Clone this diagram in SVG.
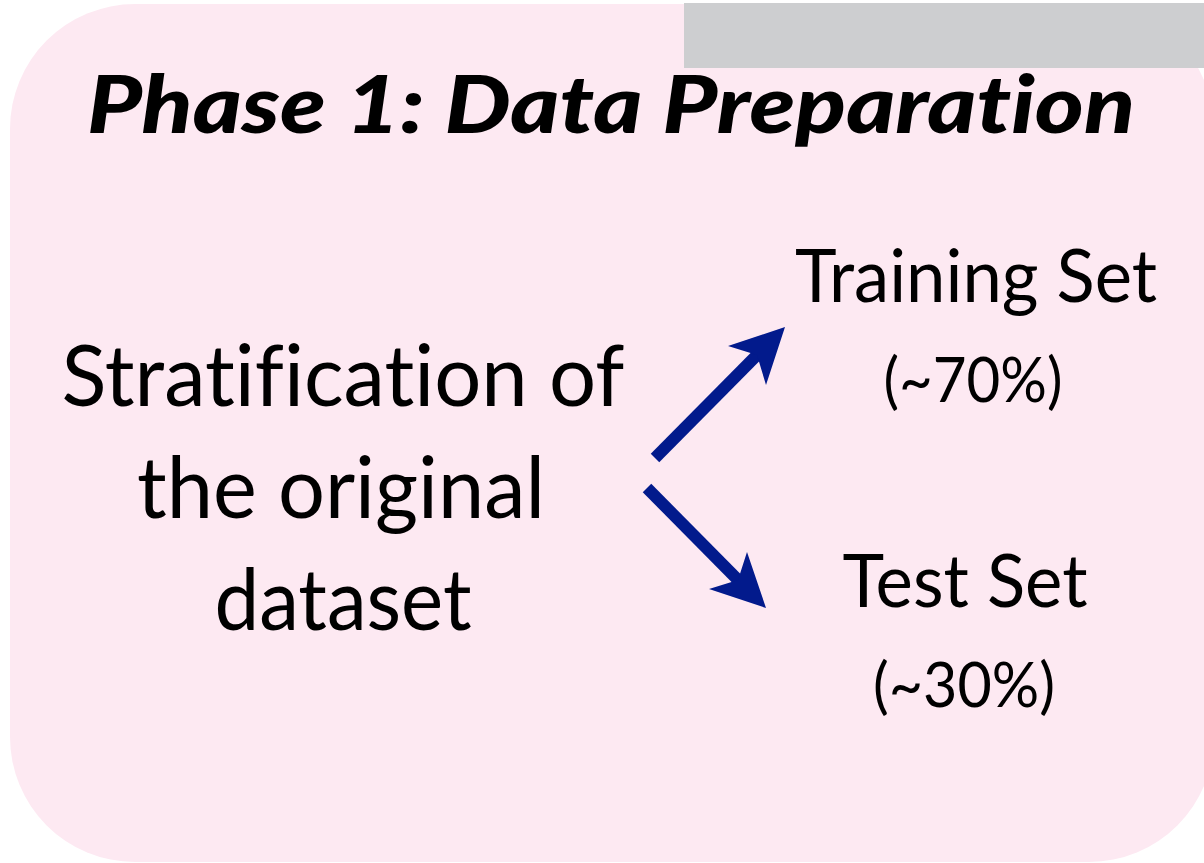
<svg xmlns="http://www.w3.org/2000/svg" width="1204" height="863" viewBox="0 0 1204 863">
  <style>
    text { font-variant-ligatures: none; }
    .title { font-family: "Lato", "Open Sans", "Liberation Sans", sans-serif; font-weight: 900; font-style: italic; font-size: 80px; fill: #000; }
    .big { font-family: "Lato", "Liberation Sans", sans-serif; font-size: 86px; fill: #000; text-anchor: middle; }
    .label { font-family: "Lato", "Liberation Sans", sans-serif; font-size: 74px; fill: #000; text-anchor: middle; }
    .pct { font-family: "Lato", "Liberation Sans", sans-serif; font-size: 62px; fill: #000; text-anchor: middle; }
    .shaft { stroke: #021a8c; stroke-width: 12; fill: none; stroke-linecap: butt; }
    .head { fill: #021a8c; }
  </style>

  <!-- panel background -->
  <rect id="panel" x="10" y="4" width="1204" height="858" rx="125" ry="125" fill="#fde9f2"/>
  <rect id="tab" x="684" y="3" width="520" height="65" fill="#cdced0"/>

  <g id="title">
    <text class="title" x="87" y="133" textLength="1048" lengthAdjust="spacingAndGlyphs">Phase 1: Data Preparation</text>
  </g>

  <g id="source">
    <text class="big" x="343" y="406" textLength="563" lengthAdjust="spacingAndGlyphs">Stratification of</text>
    <text class="big" x="341" y="518" textLength="408" lengthAdjust="spacingAndGlyphs">the original</text>
    <text class="big" x="343" y="630" textLength="257" lengthAdjust="spacingAndGlyphs">dataset</text>
  </g>

  <g id="training">
    <text class="label" x="976" y="302" textLength="362" lengthAdjust="spacingAndGlyphs">Training Set</text>
    <text class="pct" x="973" y="402" textLength="179" lengthAdjust="spacingAndGlyphs">(~70%)</text>
  </g>

  <g id="test">
    <text class="label" x="965" y="607" textLength="245" lengthAdjust="spacingAndGlyphs">Test Set</text>
    <text class="pct" x="964" y="707" textLength="182" lengthAdjust="spacingAndGlyphs">(~30%)</text>
  </g>

  <g id="connectors">
    <line class="shaft" x1="655" y1="458" x2="760" y2="352"/>
    <polygon class="head" points="785,327 766,385 757,355 728,346"/>
    <line class="shaft" x1="647" y1="488" x2="741" y2="583"/>
    <polygon class="head" points="766,608 709,589 738,580 747,552"/>
  </g>
</svg>
